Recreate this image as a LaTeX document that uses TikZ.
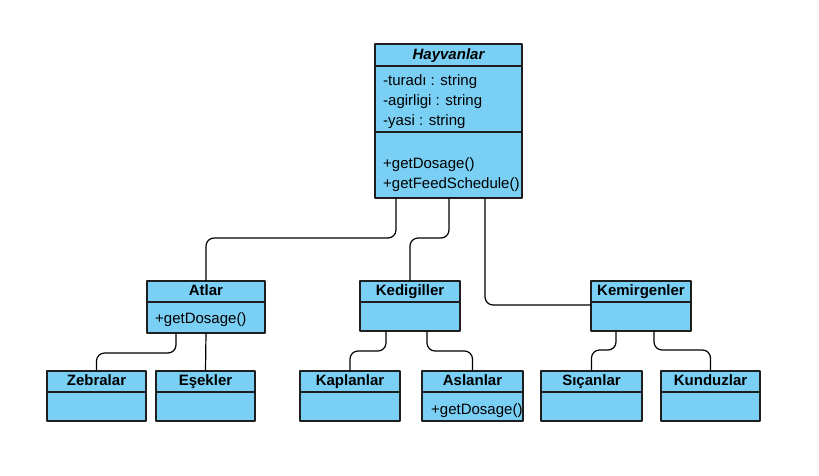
\documentclass[tikz,border=0pt]{standalone}
\usepackage{fontspec}
\setmainfont{Liberation Sans}
\definecolor{boxfill}{RGB}{122,207,245}
\definecolor{boxline}{RGB}{30,30,30}
\begin{document}
\begin{tikzpicture}[
  x=1pt,
  y=-1pt,
  line join=round,
  head/.style={draw=boxline,fill=boxfill,line width=1.2pt,minimum width=#1,
    minimum height=21,inner sep=0,outer sep=0,anchor=north west,
    text height=11,text depth=3,
    font=\fontsize{15}{18}\selectfont\bfseries},
  part/.style={draw=boxline,fill=boxfill,line width=1.2pt,minimum width=#1,
    inner sep=0,outer sep=0,anchor=north west},
  member/.style={anchor=west,inner sep=0,text height=11,text depth=3.5,
    font=\fontsize{15}{18}\selectfont},
  link/.style={draw=black,line width=1.2pt,rounded corners=8}
]
  \useasboundingbox (0,0) rectangle (819,475);

  % Base class.
  \node[head=147,minimum height=22] (hayvanlar) at (375,44) {\itshape Hayvanlar};
  \node[part=147,minimum height=66] (hayvanlarAttr) at (hayvanlar.south west) {};
  \node[part=147,minimum height=66] (hayvanlarOps) at (hayvanlarAttr.south west) {};
  \foreach \txt [count=\i] in {-turadı : string,-agirligi : string,-yasi : string} {
    \node[member] (hayvanlarVar\i) at ([shift={(8,-4+20*\i)}]hayvanlarAttr.north west) {\txt};
  }
  \node[member] (hayvanlarOp1) at ([shift={(8,33)}]hayvanlarOps.north west) {+getDosage()};
  \node[member] (hayvanlarOp2) at ([shift={(8,53)}]hayvanlarOps.north west) {+getFeedSchedule()};

  % Middle row.
  \node[head=118] (atlar) at (147,281) {Atlar};
  \node[part=118,minimum height=31] (atlarOps) at (atlar.south west) {};
  \node[member] (atlarOp) at ([shift={(8,2)}]atlarOps.west) {+getDosage()};
  \node[head=100] (kedigiller) at (360,281) {Kedigiller};
  \node[part=100,minimum height=29] (kedigillerOps) at (kedigiller.south west) {};
  \node[head=100] (kemirgenler) at (591,281) {Kemirgenler};
  \node[part=100,minimum height=29] (kemirgenlerOps) at (kemirgenler.south west) {};

  % Bottom row.
  \foreach \name/\txt/\x/\w in {zebralar/Zebralar/47/99,esekler/Eşekler/156/99,
      kaplanlar/Kaplanlar/300/100,aslanlar/Aslanlar/422/101,
      sicanlar/Sıçanlar/541/101,kunduzlar/Kunduzlar/661/99} {
    \node[head=\w] (\name) at (\x,371) {\txt};
    \node[part=\w,minimum height=29] (\name Ops) at (\name.south west) {};
  }
  \node[member] (aslanlarOp) at ([shift={(9,4)}]aslanlarOps.west) {+getDosage()};

  % Inheritance links.
  \draw[link] ([xshift=21]hayvanlarOps.south west) -- ++(0,40) -| (atlar.north);
  \draw[link] ([xshift=74]hayvanlarOps.south west) -- ++(0,40) -| (kedigiller.north);
  \draw[link] ([xshift=110]hayvanlarOps.south west) |- ([yshift=-3]kemirgenler.south west);
  \draw[link] ([xshift=29]atlarOps.south west) -- ++(0,20) -| (zebralar.north);
  \draw[link] (atlarOps.south) -- (esekler.north);
  \draw[link] ([xshift=26]kedigillerOps.south west) -- ++(0,20) -| (kaplanlar.north);
  \draw[link] ([xshift=67]kedigillerOps.south west) -- ++(0,20) -| (aslanlar.north);
  \draw[link] ([xshift=25]kemirgenlerOps.south west) -- ++(0,19) -| (sicanlar.north);
  \draw[link] ([xshift=63]kemirgenlerOps.south west) -- ++(0,19) -| (kunduzlar.north);
\end{tikzpicture}
\end{document}
